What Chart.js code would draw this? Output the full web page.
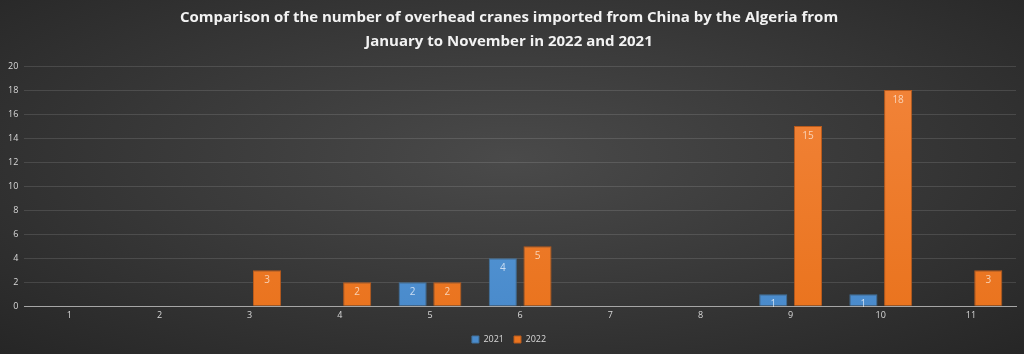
<!DOCTYPE html>
<html>
<head>
<meta charset="utf-8">
<script src="https://cdn.jsdelivr.net/npm/chart.js@4"></script>
<style>
  html, body { margin: 0; padding: 0; }
  body { width: 1024px; height: 354px; overflow: hidden;
    background: radial-gradient(ellipse at 50% 45%, #4a4a4a 0%, #3a3a3a 45%, #262626 100%); }
  #wrap { position: relative; width: 1024px; height: 354px; }
</style>
</head>
<body>
<div id="wrap"><canvas id="chart" width="1024" height="354"></canvas></div>
<script>
const months = ['1','2','3','4','5','6','7','8','9','10','11'];
const cranes2021 = [0, 0, 0, 0, 2, 4, 0, 0, 1, 1, 0];
const cranes2022 = [0, 0, 3, 2, 2, 5, 0, 0, 15, 18, 3];
const titleLines = [
  'Comparison of the number of overhead cranes imported from China by the Algeria from',
  'January to November in 2022 and 2021'
];

function barFill(top, bottom){
  return function(c){
    const area = c.chart.chartArea;
    if(!area) return bottom;
    const g = c.chart.ctx.createLinearGradient(0, area.top, 0, area.bottom);
    g.addColorStop(0, top);
    g.addColorStop(1, bottom);
    return g;
  };
}

// draws the value inside the top of each bar
const valueLabels = {
  id: 'valueLabels',
  afterDatasetsDraw(chart){
    const ctx = chart.ctx;
    ctx.save();
    ctx.font = '10px "Open Sans", sans-serif';
    ctx.textAlign = 'center';
    ctx.textBaseline = 'top';
    chart.data.datasets.forEach((ds, i) => {
      const meta = chart.getDatasetMeta(i);
      ctx.fillStyle = ds.labelColor;
      meta.data.forEach((bar, j) => {
        const v = ds.data[j];
        if(!v) return;
        ctx.fillText(String(v), bar.x, bar.y + 5);
      });
    });
    ctx.restore();
  }
};

new Chart(document.getElementById('chart'), {
  type: 'bar',
  data: {
    labels: months,
    datasets: [
      { label: '2021', data: cranes2021,
        backgroundColor: barFill('#5fa2de', '#4a8bcc'), borderColor: '#41719c', borderWidth: 1,
        labelColor: 'rgba(225,235,248,0.85)' },
      { label: '2022', data: cranes2022,
        backgroundColor: barFill('#f2843a', '#ea741f'), borderColor: '#b85a1c', borderWidth: 1,
        labelColor: 'rgba(250,225,205,0.85)' }
    ]
  },
  options: {
    responsive: false,
    animation: false,
    layout: { padding: { left: 2, right: 8, top: 0, bottom: 0 } },
    datasets: { bar: { categoryPercentage: 0.77, barPercentage: 0.81 } },
    plugins: {
      title: {
        display: true, text: titleLines, color: '#f2f2f2',
        font: { family: '"Open Sans", sans-serif', size: 15, weight: 'bold', lineHeight: 1.6 },
        padding: { top: 6, bottom: 12 }
      },
      legend: {
        position: 'bottom',
        labels: { color: '#d9d9d9', boxWidth: 7, boxHeight: 7, padding: 10,
          font: { family: '"Open Sans", sans-serif', size: 9 } }
      },
      tooltip: { enabled: false }
    },
    scales: {
      x: {
        grid: { display: false, drawTicks: false },
        border: { color: '#a6a6a6', width: 1 },
        ticks: { color: '#d9d9d9', font: { family: '"Open Sans", sans-serif', size: 9 }, padding: 4 }
      },
      y: {
        min: 0, max: 20,
        ticks: { stepSize: 2, color: '#d9d9d9', font: { family: '"Open Sans", sans-serif', size: 9 }, padding: 6 },
        grid: { color: 'rgba(255,255,255,0.12)', drawTicks: false },
        border: { display: false }
      }
    }
  },
  plugins: [valueLabels]
});
</script>
</body>
</html>
